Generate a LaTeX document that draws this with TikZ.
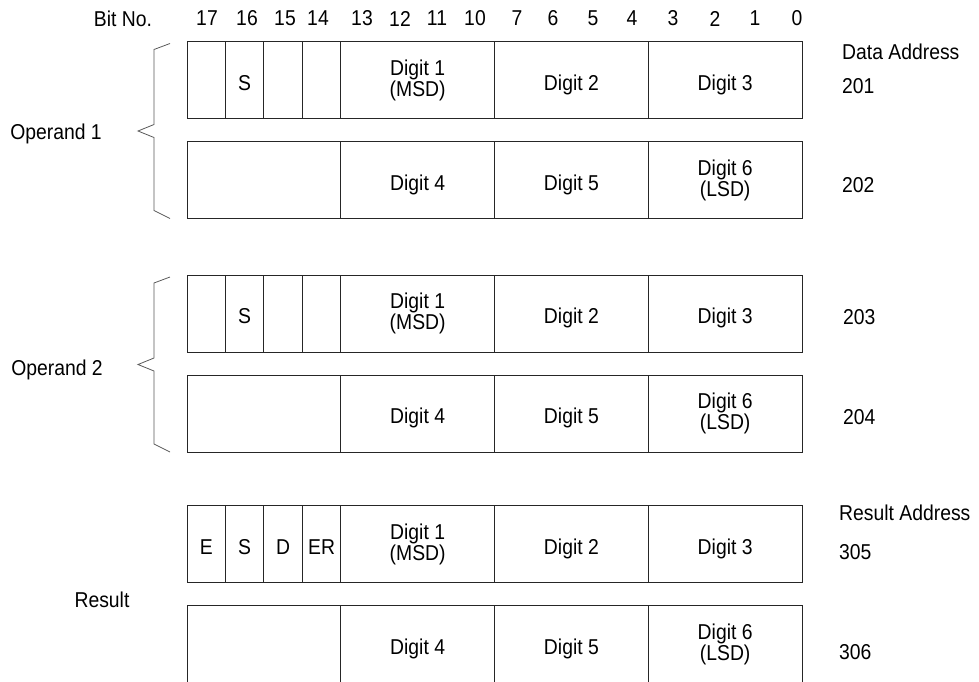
\documentclass[tikz,border=0pt]{standalone}
\usepackage{fontspec}
\setmainfont{Liberation Sans}[FakeStretch=0.9]
\usetikzlibrary{positioning}

\newcommand\bitw{38.44pt}

\begin{document}
\begin{tikzpicture}[x=1pt,y=-1pt,
    field/.style={draw=black!85, line width=0.9pt, inner sep=0pt, outer sep=0pt,
        minimum height=77pt, align=center},
    one/.style={text height=20pt, text depth=0pt},
    txt/.style={font=\fontsize{21.5}{19}\selectfont, inner sep=0pt},
    bracket/.style={draw=black!65, line width=0.8pt, line join=miter}]

    \useasboundingbox (0,0) rectangle (979,681);

    %--------------------------------
    % Bit numbers
    %--------------------------------
    \node[txt] (bitno) at (123,18.5) {Bit No.};
    \foreach \x/\b in {
        207/17,247/16,285/15,318/14,362/13,400/12,437/11,475/10,
        517/7,553/6,593/5,632/4,673/3,715/2,755/1,797/0}{
        \node[txt] (bit\b) at (\x,18.5) {\b};
    }

    %--------------------------------
    % First word: flag bits + digits 1-3
    %--------------------------------
    \foreach \w/\top/\fa/\fb/\fc/\fd in {
        a/41.5/{}/S/{}/{}, c/275/{}/S/{}/{}, e/505.5/E/S/D/ER}{
        \node[field, txt, one, minimum width=\bitw, anchor=north west] (\w1) at (187,\top) {\fa};
        \node[field, txt, one, minimum width=\bitw, right=0pt of \w1] (\w2) {\fb};
        \node[field, txt, one, minimum width=\bitw, right=0pt of \w2] (\w3) {\fc};
        \node[field, txt, one, minimum width=\bitw, right=0pt of \w3] (\w4) {\fd};
        \node[field, txt, minimum width={4*\bitw}, right=0pt of \w4] (\w5) {Digit 1\\(MSD)};
        \node[field, txt, one, minimum width={4*\bitw}, right=0pt of \w5] (\w6) {Digit 2};
        \node[field, txt, one, minimum width={4*\bitw}, right=0pt of \w6] (\w7) {Digit 3};
    }

    %--------------------------------
    % Second word: digits 4-6
    %--------------------------------
    \foreach \w/\top in {b/141.5, d/375, f/605.5}{
        \node[field, txt, one, minimum width={4*\bitw}, anchor=north west] (\w1) at (187,\top) {};
        \node[field, txt, one, minimum width={4*\bitw}, right=0pt of \w1] (\w2) {Digit 4};
        \node[field, txt, one, minimum width={4*\bitw}, right=0pt of \w2] (\w3) {Digit 5};
        \node[field, txt, minimum width={4*\bitw}, right=0pt of \w3] (\w4) {Digit 6\\(LSD)};
    }

    %--------------------------------
    % Braces for the operands
    %--------------------------------
    \foreach \top in {41.5,275}{
        \draw[bracket] (170,\top+2) -- (154,\top+8) -- (154,\top+83)
            -- (138,\top+89.5) -- (154,\top+96) -- (154,\top+169) -- (170,\top+177);
    }

    %--------------------------------
    % Left and right labels
    %--------------------------------
    \node[txt] (op1) at (56,134) {Operand 1};
    \node[txt] (op2) at (57,370) {Operand 2};
    \node[txt] (res) at (102,600) {Result};

    \node[txt, anchor=west] (dataaddr) at (842,52) {Data Address};
    \node[txt, anchor=west] (ad201) at (842,86) {201};
    \node[txt, anchor=west] (ad202) at (842,185) {202};
    \node[txt, anchor=west] (ad203) at (843,317) {203};
    \node[txt, anchor=west] (ad204) at (843,417) {204};
    \node[txt, anchor=west] (resaddr) at (839,513) {Result Address};
    \node[txt, anchor=west] (ad305) at (839,552) {305};
    \node[txt, anchor=west] (ad306) at (839,652) {306};

\end{tikzpicture}
\end{document}
